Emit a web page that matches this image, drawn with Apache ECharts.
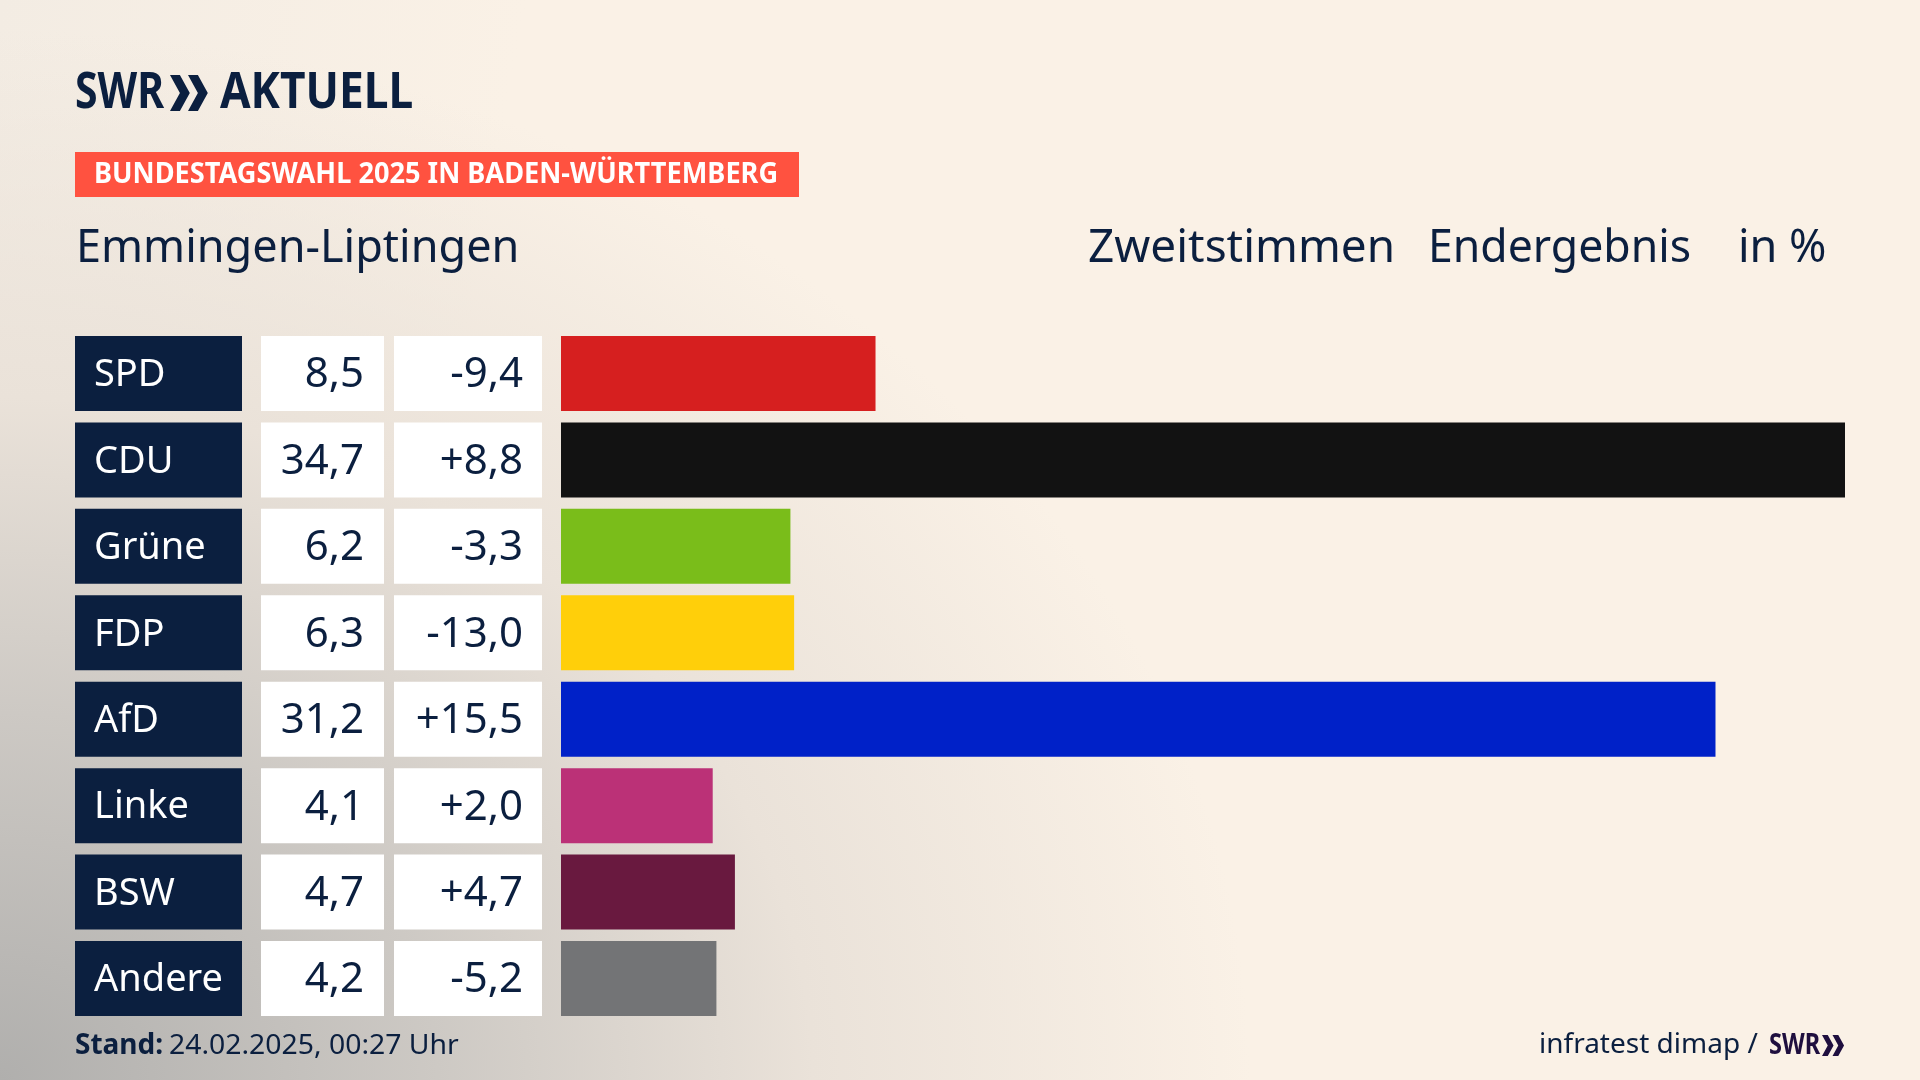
<!DOCTYPE html>
<html>
<head>
<meta charset="utf-8">
<title>Bundestagswahl 2025 Emmingen-Liptingen</title>
<script src="https://cdn.jsdelivr.net/npm/echarts@6/dist/echarts.min.js"></script>
<style>
  html, body { margin: 0; padding: 0; width: 1920px; height: 1080px; overflow: hidden; }
  body {
    background-color: #faf1e6;
    background-image:
      radial-gradient(ellipse 1250px 1050px at 0 1080px, #b0afad 0%, #cdc9c4 35%, #eae2d9 65%, rgba(250,241,230,0) 100%),
      linear-gradient(100deg, #f3ece3 0%, rgba(250,241,230,0) 25%);
  }
  #chart { width: 1920px; height: 1080px; }
</style>
</head>
<body>
<div id="chart"></div>
<script>
var parties = ["SPD", "CDU", "Grüne", "FDP", "AfD", "Linke", "BSW", "Andere"];
var shares = [8.5, 34.7, 6.2, 6.3, 31.2, 4.1, 4.7, 4.2];
var changes = [-9.4, 8.8, -3.3, -13.0, 15.5, 2.0, 4.7, -5.2];
var barColors = ["#d61f1f", "#121212", "#7abd1a", "#ffcf0a", "#0021c8", "#bb3177", "#69193f", "#737476"];

var NAVY = "#0b1f3f";
var FONT = "'Noto Sans', sans-serif";

var rowsTop = 330.3;
var rowsHeight = 691.4;

function fmt(v) {
  return v.toFixed(1).replace(".", ",");
}
function fmtSigned(v) {
  return (v > 0 ? "+" : "") + fmt(v);
}

// the three table columns are full width bars in their own grid
var columns = [
  { left: 75, width: 167, color: NAVY, text: "#ffffff", pos: "insideLeft", dist: 19, size: 38, label: function (i) { return parties[i]; } },
  { left: 261, width: 123, color: "#ffffff", text: NAVY, pos: "insideRight", dist: 20, size: 42, label: function (i) { return fmt(shares[i]); } },
  { left: 394, width: 148, color: "#ffffff", text: NAVY, pos: "insideRight", dist: 19, size: 42, label: function (i) { return fmtSigned(changes[i]); } }
];

var grids = [], xAxes = [], yAxes = [], series = [];

columns.forEach(function (col, n) {
  grids.push({ left: col.left, width: col.width, top: rowsTop, height: rowsHeight });
  xAxes.push({ gridIndex: n, type: "value", min: 0, max: 1, show: false });
  yAxes.push({ gridIndex: n, type: "category", data: parties, inverse: true, show: false });
  series.push({
    type: "bar",
    xAxisIndex: n,
    yAxisIndex: n,
    barWidth: 75,
    silent: true,
    itemStyle: { color: col.color },
    label: {
      show: true,
      position: col.pos,
      distance: col.dist,
      offset: [0, 2],
      color: col.text,
      fontFamily: FONT,
      fontSize: col.size,
      formatter: function (p) { return col.label(p.dataIndex); }
    },
    data: parties.map(function () { return 1; })
  });
});

// the result bars
grids.push({ left: 561, width: 1284, top: rowsTop, height: rowsHeight });
xAxes.push({ gridIndex: 3, type: "value", min: 0, max: 34.7, show: false });
yAxes.push({ gridIndex: 3, type: "category", data: parties, inverse: true, show: false });
series.push({
  type: "bar",
  xAxisIndex: 3,
  yAxisIndex: 3,
  barWidth: 75,
  silent: true,
  data: shares.map(function (v, i) {
    return { value: v, itemStyle: { color: barColors[i] } };
  })
});

// y is the baseline, zrender text is placed from its top
function txt(x, y, s, size, opts) {
  opts = opts || {};
  return {
    type: "text",
    x: x,
    y: y - size * 0.84,
    scaleX: opts.scaleX || 1,
    style: {
      text: s,
      fill: opts.color || NAVY,
      font: (opts.weight || "normal") + " " + size + "px " + FONT,
      textAlign: "left"
    }
  };
}

function chevrons(x, y, h, color) {
  var w = h * 0.55, gap = h * 0.5;
  return [0, 1].map(function (k) {
    var x0 = x + k * gap;
    return {
      type: "polygon",
      shape: { points: [[x0, y], [x0 + w * 0.5, y], [x0 + w, y + h / 2], [x0 + w * 0.5, y + h], [x0, y + h], [x0 + w * 0.5, y + h / 2]] },
      style: { fill: color }
    };
  });
}

var texts = [
  txt(75, 111, "SWR", 50, { weight: "bold", scaleX: 0.82 }),
  txt(220, 111, "AKTUELL", 50, { weight: "bold", scaleX: 0.885 }),
  { type: "rect", shape: { x: 75, y: 152, width: 724, height: 45 }, style: { fill: "#ff5240" } },
  txt(94, 185, "BUNDESTAGSWAHL 2025 IN BADEN-WÜRTTEMBERG", 28, { weight: "bold", color: "#ffffff", scaleX: 0.97 }),
  txt(76, 264, "Emmingen-Liptingen", 45),
  txt(1088, 264, "Zweitstimmen", 45, { scaleX: 1.02 }),
  txt(1428, 264, "Endergebnis", 45, { scaleX: 0.99 }),
  txt(1738, 264, "in %", 45),
  txt(75, 1056, "Stand:", 28, { weight: "bold" }),
  txt(169, 1056, "24.02.2025, 00:27 Uhr", 28, { scaleX: 1.013 }),
  txt(1539, 1055, "infratest dimap /", 28),
  txt(1769, 1056, "SWR", 28, { weight: "bold", color: "#1f0f3f", scaleX: 0.84 })
].concat(chevrons(170, 75, 36, NAVY), chevrons(1822, 1035, 21, "#1f0f3f"));

var chart = echarts.init(document.getElementById("chart"), null, { renderer: "canvas" });
chart.setOption({
  animation: false,
  backgroundColor: "transparent",
  grid: grids,
  xAxis: xAxes,
  yAxis: yAxes,
  series: series,
  graphic: { elements: texts }
});
</script>
</body>
</html>
